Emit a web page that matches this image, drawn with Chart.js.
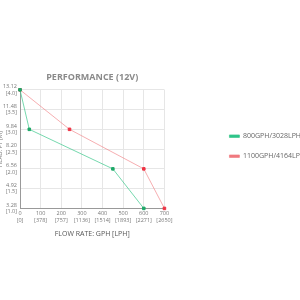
<!DOCTYPE html>
<html>
<head>
<meta charset="utf-8">
<script src="https://cdn.jsdelivr.net/npm/chart.js@4"></script>
<style>
  html, body { margin: 0; padding: 0; background: #fff; overflow: hidden; }
  #wrap { position: absolute; left: -3px; top: 0; width: 340px; height: 300px; }
</style>
</head>
<body>
<div id="wrap"><canvas id="perfChart"></canvas></div>
<script>
// flow in GPH, head in feet
const seriesNames = ['800GPH/3028LPH', '1100GPH/4164LPH'];
const flow800 = [0, 45, 450, 600];
const head800 = [13.12, 9.84, 6.56, 3.28];
const flow1100 = [0, 240, 600, 700];
const head1100 = [13.12, 9.84, 6.56, 3.28];

const xTickValues = [0, 100, 200, 300, 400, 500, 600, 700];
const xTickLabels = [['0', '[0]'], ['100', '[378]'], ['200', '[757]'], ['300', '[1136]'],
  ['400', '[1514]'], ['500', '[1893]'], ['600', '[2271]'], ['700', '[2650]']];
const yTickValues = [3.28, 4.92, 6.56, 8.20, 9.84, 11.48, 13.12];
const yTickLabels = [['3.28', '[1.0]'], ['4.92', '[1.5]'], ['6.56', '[2.0]'], ['8.20', '[2.5]'],
  ['9.84', '[3.0]'], ['11.48', '[3.5]'], ['13.12', '[4.0]']];

const toPoints = (xs, ys) => xs.map((x, i) => ({ x: x, y: ys[i] }));

const ctx = document.getElementById('perfChart').getContext('2d');
const chart = new Chart(ctx, {
  type: 'line',
  data: {
    datasets: [{
      label: seriesNames[0],
      data: toPoints(flow800, head800),
      borderColor: 'rgba(60, 200, 140, 0.7)',
      backgroundColor: '#2dc58a',
      pointBackgroundColor: '#1ea868',
      pointBorderColor: '#1ea868',
      borderWidth: 1,
      pointStyle: 'rect',
      pointRadius: 1.8,
      clip: false
    }, {
      label: seriesNames[1],
      data: toPoints(flow1100, head1100),
      borderColor: 'rgba(240, 120, 125, 0.6)',
      backgroundColor: '#f07a80',
      pointBackgroundColor: '#ee3344',
      pointBorderColor: '#ee3344',
      borderWidth: 1,
      pointStyle: 'rect',
      pointRadius: 1.8,
      clip: false
    }]
  },
  options: {
    responsive: true,
    maintainAspectRatio: false,
    animation: false,
    layout: { padding: { top: 0, left: 0, right: 22, bottom: 62 } },
    font: { family: 'Open Sans' },
    plugins: {
      title: {
        display: true,
        text: 'PERFORMANCE (12V)',
        fullSize: false,
        color: '#8a8a8a',
        font: { family: 'Open Sans', size: 9, weight: 'bold' },
        padding: { top: 72, bottom: 7 }
      },
      legend: {
        position: 'right',
        align: 'center',
        maxWidth: 200,
        // empty title only pushes the items down
        title: { display: true, text: ' ', font: { size: 7 }, padding: { top: 23, bottom: 23 } },
        labels: {
          boxWidth: 10,
          boxHeight: 2.5,
          padding: 13,
          color: '#666',
          font: { family: 'Open Sans', size: 7 }
        }
      },
      tooltip: { enabled: false }
    },
    scales: {
      x: {
        type: 'linear',
        min: 0,
        max: 700,
        afterBuildTicks: (scale) => { scale.ticks = xTickValues.map(v => ({ value: v })); },
        ticks: {
          callback: (value, index) => xTickLabels[index],
          color: '#777',
          padding: 2,
          maxRotation: 0,
          autoSkip: false,
          font: { family: 'Open Sans', size: 5.5 }
        },
        grid: { color: '#e6e6e6', drawTicks: false },
        border: { color: '#999' },
        title: {
          display: true,
          text: 'FLOW RATE: GPH [LPH]',
          color: '#555',
          font: { family: 'Open Sans', size: 7 },
          padding: { top: 4, bottom: 0 }
        }
      },
      y: {
        type: 'linear',
        min: 3.28,
        max: 13.12,
        afterBuildTicks: (scale) => { scale.ticks = yTickValues.map(v => ({ value: v })); },
        afterFit: (scale) => { scale.width = 23; },
        ticks: {
          callback: (value, index) => yTickLabels[index],
          color: '#777',
          padding: 3,
          autoSkip: false,
          font: { family: 'Open Sans', size: 5.5 }
        },
        grid: { color: '#e6e6e6', drawTicks: false },
        border: { color: '#999' },
        title: {
          display: true,
          text: 'HEAD: FT [M]',
          color: '#777',
          font: { family: 'Open Sans', size: 6 },
          padding: { top: 0, bottom: 0 }
        }
      },
      // invisible spacer between the plot and the legend
      spacer: {
        type: 'linear',
        position: 'right',
        display: true,
        afterFit: (scale) => { scale.width = 52; },
        ticks: { display: false },
        grid: { display: false, drawTicks: false },
        border: { display: false }
      }
    }
  }
});
</script>
</body>
</html>
